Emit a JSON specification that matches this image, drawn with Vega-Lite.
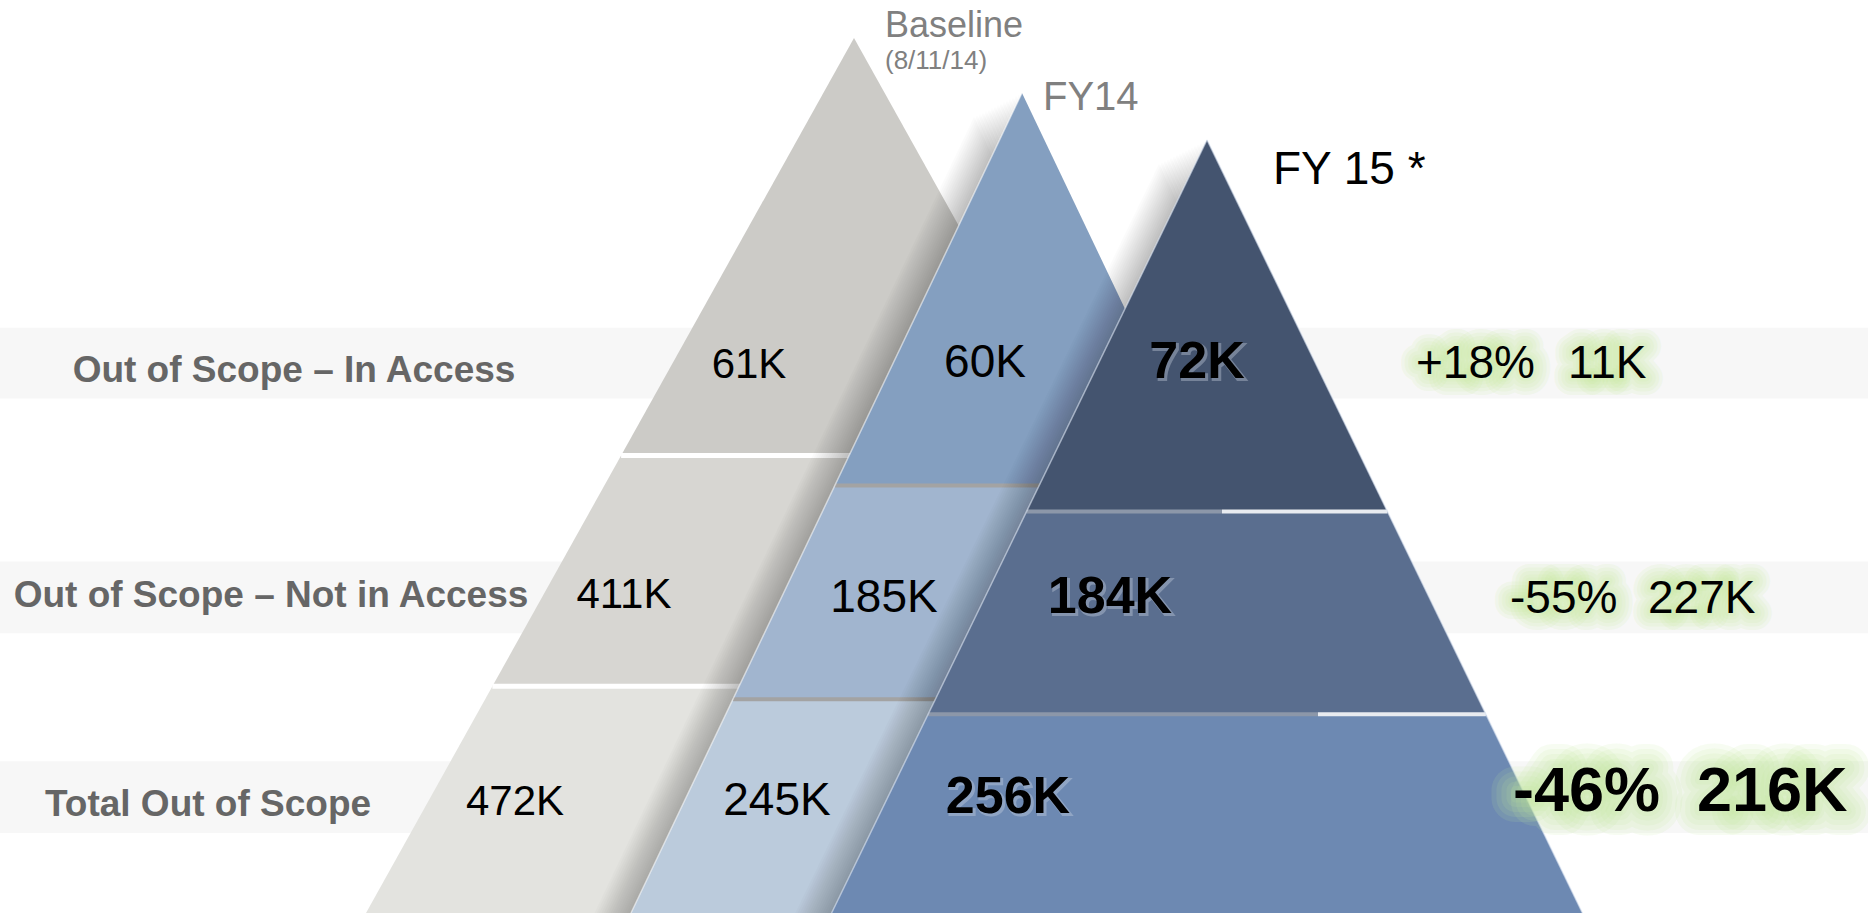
{
  "$schema": "https://vega.github.io/schema/vega-lite/v6.json",
  "width": 1868,
  "height": 914,
  "autosize": {"type": "fit", "contains": "padding"},
  "padding": 0,
  "background": "#ffffff",
  "config": {"view": {"stroke": null}},
  "resolve": {"scale": {"color": "independent"}},
  "datasets": {
    "bands": [
      {"x1": 0, "x2": 1868, "y1": 328, "y2": 399},
      {"x1": 0, "x2": 1868, "y1": 562, "y2": 634},
      {"x1": 0, "x2": 1868, "y1": 762, "y2": 834}
    ],
    "pyr": [
      {"pyr": "B", "seg": "B1", "y": 38, "xl": 854, "xr": 854},
      {"pyr": "B", "seg": "B1", "y": 456, "xl": 621.1, "xr": 1086.9},
      {"pyr": "B", "seg": "B2", "y": 456, "xl": 621.1, "xr": 1086.9},
      {"pyr": "B", "seg": "B2", "y": 687, "xl": 492.4, "xr": 1215.6},
      {"pyr": "B", "seg": "B3", "y": 687, "xl": 492.4, "xr": 1215.6},
      {"pyr": "B", "seg": "B3", "y": 914, "xl": 366, "xr": 1342},
      {"pyr": "F", "seg": "F1", "y": 93, "xl": 1022, "xr": 1022},
      {"pyr": "F", "seg": "F1", "y": 486, "xl": 834.8, "xr": 1209.2},
      {"pyr": "F", "seg": "F2", "y": 486, "xl": 834.8, "xr": 1209.2},
      {"pyr": "F", "seg": "F2", "y": 700, "xl": 732.9, "xr": 1311.1},
      {"pyr": "F", "seg": "F3", "y": 700, "xl": 732.9, "xr": 1311.1},
      {"pyr": "F", "seg": "F3", "y": 914, "xl": 631, "xr": 1413},
      {"pyr": "G", "seg": "G1", "y": 140, "xl": 1207, "xr": 1207},
      {"pyr": "G", "seg": "G1", "y": 512, "xl": 1026.6, "xr": 1387.4},
      {"pyr": "G", "seg": "G2", "y": 512, "xl": 1026.6, "xr": 1387.4},
      {"pyr": "G", "seg": "G2", "y": 715, "xl": 928.1, "xr": 1485.9},
      {"pyr": "G", "seg": "G3", "y": 715, "xl": 928.1, "xr": 1485.9},
      {"pyr": "G", "seg": "G3", "y": 914, "xl": 831.6, "xr": 1582.4}
    ],
    "shadows": [
      {"pyr": "F", "d": 3, "y": 94.5, "xl": 1019, "xr": 1019}, {"pyr": "F", "d": 3, "y": 914, "xl": 628.7, "xr": 1409.3},
      {"pyr": "F", "d": 6, "y": 96, "xl": 1016, "xr": 1016}, {"pyr": "F", "d": 6, "y": 914, "xl": 626.4, "xr": 1405.6},
      {"pyr": "F", "d": 9, "y": 97.5, "xl": 1013, "xr": 1013}, {"pyr": "F", "d": 9, "y": 914, "xl": 624.1, "xr": 1401.9},
      {"pyr": "F", "d": 12, "y": 99, "xl": 1010, "xr": 1010}, {"pyr": "F", "d": 12, "y": 914, "xl": 621.9, "xr": 1398.1},
      {"pyr": "F", "d": 15, "y": 100.5, "xl": 1007, "xr": 1007}, {"pyr": "F", "d": 15, "y": 914, "xl": 619.6, "xr": 1394.4},
      {"pyr": "F", "d": 18, "y": 102, "xl": 1004, "xr": 1004}, {"pyr": "F", "d": 18, "y": 914, "xl": 617.3, "xr": 1390.7},
      {"pyr": "F", "d": 21, "y": 103.5, "xl": 1001, "xr": 1001}, {"pyr": "F", "d": 21, "y": 914, "xl": 615.0, "xr": 1387.0},
      {"pyr": "F", "d": 24, "y": 105, "xl": 998, "xr": 998}, {"pyr": "F", "d": 24, "y": 914, "xl": 612.7, "xr": 1383.3},
      {"pyr": "F", "d": 27, "y": 106.5, "xl": 995, "xr": 995}, {"pyr": "F", "d": 27, "y": 914, "xl": 610.4, "xr": 1379.6},
      {"pyr": "F", "d": 30, "y": 108, "xl": 992, "xr": 992}, {"pyr": "F", "d": 30, "y": 914, "xl": 608.1, "xr": 1375.9},
      {"pyr": "F", "d": 33, "y": 109.5, "xl": 989, "xr": 989}, {"pyr": "F", "d": 33, "y": 914, "xl": 605.9, "xr": 1372.1},
      {"pyr": "F", "d": 36, "y": 111, "xl": 986, "xr": 986}, {"pyr": "F", "d": 36, "y": 914, "xl": 603.6, "xr": 1368.4},
      {"pyr": "F", "d": 39, "y": 112.5, "xl": 983, "xr": 983}, {"pyr": "F", "d": 39, "y": 914, "xl": 601.3, "xr": 1364.7},
      {"pyr": "F", "d": 42, "y": 114, "xl": 980, "xr": 980}, {"pyr": "F", "d": 42, "y": 914, "xl": 599.0, "xr": 1361.0},
      {"pyr": "F", "d": 45, "y": 115.5, "xl": 977, "xr": 977}, {"pyr": "F", "d": 45, "y": 914, "xl": 596.7, "xr": 1357.3},
      {"pyr": "F", "d": 48, "y": 117, "xl": 974, "xr": 974}, {"pyr": "F", "d": 48, "y": 914, "xl": 594.4, "xr": 1353.6},
      {"pyr": "G", "d": 3, "y": 141.5, "xl": 1204, "xr": 1204}, {"pyr": "G", "d": 3, "y": 914, "xl": 829.3, "xr": 1578.7},
      {"pyr": "G", "d": 6, "y": 143, "xl": 1201, "xr": 1201}, {"pyr": "G", "d": 6, "y": 914, "xl": 827.1, "xr": 1575.0},
      {"pyr": "G", "d": 9, "y": 144.5, "xl": 1198, "xr": 1198}, {"pyr": "G", "d": 9, "y": 914, "xl": 824.8, "xr": 1571.2},
      {"pyr": "G", "d": 12, "y": 146, "xl": 1195, "xr": 1195}, {"pyr": "G", "d": 12, "y": 914, "xl": 822.5, "xr": 1567.5},
      {"pyr": "G", "d": 15, "y": 147.5, "xl": 1192, "xr": 1192}, {"pyr": "G", "d": 15, "y": 914, "xl": 820.2, "xr": 1563.8},
      {"pyr": "G", "d": 18, "y": 149, "xl": 1189, "xr": 1189}, {"pyr": "G", "d": 18, "y": 914, "xl": 818.0, "xr": 1560.0},
      {"pyr": "G", "d": 21, "y": 150.5, "xl": 1186, "xr": 1186}, {"pyr": "G", "d": 21, "y": 914, "xl": 815.7, "xr": 1556.3},
      {"pyr": "G", "d": 24, "y": 152, "xl": 1183, "xr": 1183}, {"pyr": "G", "d": 24, "y": 914, "xl": 813.4, "xr": 1552.6},
      {"pyr": "G", "d": 27, "y": 153.5, "xl": 1180, "xr": 1180}, {"pyr": "G", "d": 27, "y": 914, "xl": 811.2, "xr": 1548.9},
      {"pyr": "G", "d": 30, "y": 155, "xl": 1177, "xr": 1177}, {"pyr": "G", "d": 30, "y": 914, "xl": 808.9, "xr": 1545.1},
      {"pyr": "G", "d": 33, "y": 156.5, "xl": 1174, "xr": 1174}, {"pyr": "G", "d": 33, "y": 914, "xl": 806.6, "xr": 1541.4},
      {"pyr": "G", "d": 36, "y": 158, "xl": 1171, "xr": 1171}, {"pyr": "G", "d": 36, "y": 914, "xl": 804.3, "xr": 1537.7},
      {"pyr": "G", "d": 39, "y": 159.5, "xl": 1168, "xr": 1168}, {"pyr": "G", "d": 39, "y": 914, "xl": 802.1, "xr": 1533.9},
      {"pyr": "G", "d": 42, "y": 161, "xl": 1165, "xr": 1165}, {"pyr": "G", "d": 42, "y": 914, "xl": 799.8, "xr": 1530.2},
      {"pyr": "G", "d": 45, "y": 162.5, "xl": 1162, "xr": 1162}, {"pyr": "G", "d": 45, "y": 914, "xl": 797.5, "xr": 1526.5},
      {"pyr": "G", "d": 48, "y": 164, "xl": 1159, "xr": 1159}, {"pyr": "G", "d": 48, "y": 914, "xl": 795.2, "xr": 1522.8}
    ],
    "seps": [
      {"pyr": "B", "kind": "B", "y": 456, "x1": 621.1, "x2": 1086.9},
      {"pyr": "B", "kind": "B", "y": 687, "x1": 492.4, "x2": 1215.6},
      {"pyr": "F", "kind": "F", "y": 486, "x1": 834.8, "x2": 1209.2},
      {"pyr": "F", "kind": "F", "y": 700, "x1": 732.9, "x2": 1311.1},
      {"pyr": "G", "kind": "Gl", "y": 512, "x1": 1026.6, "x2": 1222},
      {"pyr": "G", "kind": "Gr", "y": 512, "x1": 1222, "x2": 1387.4},
      {"pyr": "G", "kind": "Gl", "y": 715, "x1": 928.1, "x2": 1318},
      {"pyr": "G", "kind": "Gr", "y": 715, "x1": 1318, "x2": 1485.9}
    ],
    "edges": [
      {"pyr": "F", "x": 1022, "y": 93, "x2": 631, "y2": 914},
      {"pyr": "G", "x": 1207, "y": 140, "x2": 831.6, "y2": 914},
      {"pyr": "G", "x": 1207, "y": 140, "x2": 1582.4, "y2": 914}
    ],
    "labels": [
      {"label": "Out of Scope – In Access", "x": 294, "y": 382},
      {"label": "Out of Scope – Not in Access", "x": 271, "y": 608},
      {"label": "Total Out of Scope", "x": 208, "y": 817}
    ],
    "values": [
      {"series": "Baseline", "row": "In Access", "text": "61K", "x": 749, "y": 378},
      {"series": "Baseline", "row": "Not in Access", "text": "411K", "x": 624, "y": 609},
      {"series": "Baseline", "row": "Total", "text": "472K", "x": 515, "y": 816},
      {"series": "FY14", "row": "In Access", "text": "60K", "x": 985, "y": 377},
      {"series": "FY14", "row": "Not in Access", "text": "185K", "x": 884, "y": 613},
      {"series": "FY14", "row": "Total", "text": "245K", "x": 777, "y": 816},
      {"series": "FY15", "row": "In Access", "text": "72K", "x": 1197, "y": 378},
      {"series": "FY15", "row": "Not in Access", "text": "184K", "x": 1110, "y": 614},
      {"series": "FY15", "row": "Total", "text": "256K", "x": 1008, "y": 814}
    ],
    "changes": [
      {"row": "In Access", "text": "+18%", "x": 1416, "y": 378},
      {"row": "In Access", "text": "11K", "x": 1568, "y": 378},
      {"row": "Not in Access", "text": "-55%", "x": 1510, "y": 614},
      {"row": "Not in Access", "text": "227K", "x": 1648, "y": 614},
      {"row": "Total", "text": "-46%", "x": 1513, "y": 812},
      {"row": "Total", "text": "216K", "x": 1697, "y": 812}
    ],
    "titles": [
      {"t": "Baseline", "text": "Baseline", "x": 885, "y": 37},
      {"t": "date", "text": "(8/11/14)", "x": 885, "y": 69},
      {"t": "FY14", "text": "FY14", "x": 1043, "y": 110},
      {"t": "FY15", "text": "FY 15 *", "x": 1273, "y": 184}
    ]
  },
  "layer": [
    {
      "data": {"name": "bands"},
      "mark": {"type": "rect", "color": "#f7f7f7"},
      "encoding": {
        "x": {"field": "x1", "type": "quantitative", "scale": {"domain": [0, 1868], "nice": false, "zero": false}, "axis": null},
        "x2": {"field": "x2"},
        "y": {"field": "y1", "type": "quantitative", "scale": {"domain": [0, 914], "reverse": true, "nice": false, "zero": false}, "axis": null},
        "y2": {"field": "y2"}
      }
    },
    {
      "data": {"name": "pyr"},
      "transform": [{"filter": "datum.pyr === 'B'"}],
      "mark": {"type": "area", "orient": "horizontal"},
      "encoding": {
        "y": {"field": "y", "type": "quantitative", "scale": {"domain": [0, 914], "reverse": true, "nice": false, "zero": false}, "axis": null},
        "x": {"field": "xl", "type": "quantitative", "stack": null, "scale": {"domain": [0, 1868], "nice": false, "zero": false}, "axis": null},
        "x2": {"field": "xr"},
        "color": {"field": "seg", "type": "nominal", "legend": null, "scale": {"domain": ["B1", "B2", "B3"], "range": ["#cccbc7", "#d7d6d2", "#e3e3df"]}},
        "detail": {"field": "seg"}
      }
    },
    {
      "data": {"name": "seps"},
      "transform": [{"filter": "datum.pyr === 'B'"}],
      "mark": {"type": "rule", "color": "#ffffff", "strokeWidth": 5},
      "encoding": {
        "x": {"field": "x1", "type": "quantitative", "scale": {"domain": [0, 1868], "nice": false, "zero": false}, "axis": null},
        "x2": {"field": "x2"},
        "y": {"field": "y", "type": "quantitative", "scale": {"domain": [0, 914], "reverse": true, "nice": false, "zero": false}, "axis": null}
      }
    },
    {
      "data": {"name": "shadows"},
      "transform": [{"filter": "datum.pyr === 'F'"}],
      "mark": {"type": "area", "orient": "horizontal", "color": "#000000", "opacity": 0.017},
      "encoding": {
        "y": {"field": "y", "type": "quantitative", "scale": {"domain": [0, 914], "reverse": true, "nice": false, "zero": false}, "axis": null},
        "x": {"field": "xl", "type": "quantitative", "stack": null, "scale": {"domain": [0, 1868], "nice": false, "zero": false}, "axis": null},
        "x2": {"field": "xr"},
        "detail": {"field": "d"}
      }
    },
    {
      "data": {"name": "pyr"},
      "transform": [{"filter": "datum.pyr === 'F'"}],
      "mark": {"type": "area", "orient": "horizontal"},
      "encoding": {
        "y": {"field": "y", "type": "quantitative", "scale": {"domain": [0, 914], "reverse": true, "nice": false, "zero": false}, "axis": null},
        "x": {"field": "xl", "type": "quantitative", "stack": null, "scale": {"domain": [0, 1868], "nice": false, "zero": false}, "axis": null},
        "x2": {"field": "xr"},
        "color": {"field": "seg", "type": "nominal", "legend": null, "scale": {"domain": ["F1", "F2", "F3"], "range": ["#849fc0", "#a1b5cf", "#bbcbdc"]}},
        "detail": {"field": "seg"}
      }
    },
    {
      "data": {"name": "seps"},
      "transform": [{"filter": "datum.pyr === 'F'"}],
      "mark": {"type": "rule", "color": "#a3a3a3", "strokeWidth": 4},
      "encoding": {
        "x": {"field": "x1", "type": "quantitative", "scale": {"domain": [0, 1868], "nice": false, "zero": false}, "axis": null},
        "x2": {"field": "x2"},
        "y": {"field": "y", "type": "quantitative", "scale": {"domain": [0, 914], "reverse": true, "nice": false, "zero": false}, "axis": null}
      }
    },
    {
      "data": {"name": "edges"},
      "transform": [{"filter": "datum.pyr === 'F'"}],
      "mark": {"type": "rule", "color": "#ffffff", "strokeWidth": 1.5, "opacity": 0.55},
      "encoding": {
        "x": {"field": "x", "type": "quantitative", "scale": {"domain": [0, 1868], "nice": false, "zero": false}, "axis": null},
        "x2": {"field": "x2"},
        "y": {"field": "y", "type": "quantitative", "scale": {"domain": [0, 914], "reverse": true, "nice": false, "zero": false}, "axis": null},
        "y2": {"field": "y2"}
      }
    },
    {
      "data": {"name": "shadows"},
      "transform": [{"filter": "datum.pyr === 'G'"}],
      "mark": {"type": "area", "orient": "horizontal", "color": "#000000", "opacity": 0.017},
      "encoding": {
        "y": {"field": "y", "type": "quantitative", "scale": {"domain": [0, 914], "reverse": true, "nice": false, "zero": false}, "axis": null},
        "x": {"field": "xl", "type": "quantitative", "stack": null, "scale": {"domain": [0, 1868], "nice": false, "zero": false}, "axis": null},
        "x2": {"field": "xr"},
        "detail": {"field": "d"}
      }
    },
    {
      "data": {"name": "pyr"},
      "transform": [{"filter": "datum.pyr === 'G'"}],
      "mark": {"type": "area", "orient": "horizontal"},
      "encoding": {
        "y": {"field": "y", "type": "quantitative", "scale": {"domain": [0, 914], "reverse": true, "nice": false, "zero": false}, "axis": null},
        "x": {"field": "xl", "type": "quantitative", "stack": null, "scale": {"domain": [0, 1868], "nice": false, "zero": false}, "axis": null},
        "x2": {"field": "xr"},
        "color": {"field": "seg", "type": "nominal", "legend": null, "scale": {"domain": ["G1", "G2", "G3"], "range": ["#44546f", "#5a6e8f", "#6d89b2"]}},
        "detail": {"field": "seg"}
      }
    },
    {
      "data": {"name": "seps"},
      "transform": [{"filter": "datum.pyr === 'G'"}],
      "mark": {"type": "rule", "strokeWidth": 4},
      "encoding": {
        "x": {"field": "x1", "type": "quantitative", "scale": {"domain": [0, 1868], "nice": false, "zero": false}, "axis": null},
        "x2": {"field": "x2"},
        "y": {"field": "y", "type": "quantitative", "scale": {"domain": [0, 914], "reverse": true, "nice": false, "zero": false}, "axis": null},
        "color": {"field": "kind", "type": "nominal", "legend": null, "scale": {"domain": ["Gl", "Gr"], "range": ["#8c97a9", "#e8ebf0"]}}
      }
    },
    {
      "data": {"name": "edges"},
      "transform": [{"filter": "datum.pyr === 'G'"}],
      "mark": {"type": "rule", "color": "#dfe8f5", "strokeWidth": 1.5, "opacity": 0.6},
      "encoding": {
        "x": {"field": "x", "type": "quantitative", "scale": {"domain": [0, 1868], "nice": false, "zero": false}, "axis": null},
        "x2": {"field": "x2"},
        "y": {"field": "y", "type": "quantitative", "scale": {"domain": [0, 914], "reverse": true, "nice": false, "zero": false}, "axis": null},
        "y2": {"field": "y2"}
      }
    },
    {
      "data": {"name": "labels"},
      "mark": {"type": "text", "align": "center", "baseline": "alphabetic", "font": "Liberation Sans", "fontSize": 37, "fontWeight": "bold", "fill": "#666666"},
      "encoding": {
        "x": {"field": "x", "type": "quantitative", "scale": {"domain": [0, 1868], "nice": false, "zero": false}, "axis": null},
        "y": {"field": "y", "type": "quantitative", "scale": {"domain": [0, 914], "reverse": true, "nice": false, "zero": false}, "axis": null},
        "text": {"field": "label"}
      }
    },
    {
      "data": {"name": "values"},
      "transform": [{"filter": "datum.series === 'Baseline'"}],
      "mark": {"type": "text", "align": "center", "baseline": "alphabetic", "font": "Liberation Sans", "fontSize": 42, "fill": "#000000"},
      "encoding": {
        "x": {"field": "x", "type": "quantitative", "scale": {"domain": [0, 1868], "nice": false, "zero": false}, "axis": null},
        "y": {"field": "y", "type": "quantitative", "scale": {"domain": [0, 914], "reverse": true, "nice": false, "zero": false}, "axis": null},
        "text": {"field": "text"}
      }
    },
    {
      "data": {"name": "values"},
      "transform": [{"filter": "datum.series === 'FY14'"}],
      "mark": {"type": "text", "align": "center", "baseline": "alphabetic", "font": "Liberation Sans", "fontSize": 46, "fill": "#000000"},
      "encoding": {
        "x": {"field": "x", "type": "quantitative", "scale": {"domain": [0, 1868], "nice": false, "zero": false}, "axis": null},
        "y": {"field": "y", "type": "quantitative", "scale": {"domain": [0, 914], "reverse": true, "nice": false, "zero": false}, "axis": null},
        "text": {"field": "text"}
      }
    },
    {
      "data": {"name": "values"},
      "transform": [{"filter": "datum.series === 'FY15'"}],
      "mark": {"type": "text", "align": "center", "baseline": "alphabetic", "font": "Liberation Sans", "fontSize": 52, "fontWeight": "bold", "fill": "#d3dbe8", "stroke": "#d3dbe8", "strokeWidth": 2, "opacity": 0.35, "dx": 2, "dy": 2},
      "encoding": {
        "x": {"field": "x", "type": "quantitative", "scale": {"domain": [0, 1868], "nice": false, "zero": false}, "axis": null},
        "y": {"field": "y", "type": "quantitative", "scale": {"domain": [0, 914], "reverse": true, "nice": false, "zero": false}, "axis": null},
        "text": {"field": "text"}
      }
    },
    {
      "data": {"name": "values"},
      "transform": [{"filter": "datum.series === 'FY15'"}],
      "mark": {"type": "text", "align": "center", "baseline": "alphabetic", "font": "Liberation Sans", "fontSize": 52, "fontWeight": "bold", "fill": "#000000"},
      "encoding": {
        "x": {"field": "x", "type": "quantitative", "scale": {"domain": [0, 1868], "nice": false, "zero": false}, "axis": null},
        "y": {"field": "y", "type": "quantitative", "scale": {"domain": [0, 914], "reverse": true, "nice": false, "zero": false}, "axis": null},
        "text": {"field": "text"}
      }
    },
    {
      "data": {"name": "changes"},
      "transform": [{"filter": "datum.row !== 'Total'"}],
      "mark": {"type": "text", "align": "left", "baseline": "alphabetic", "font": "Liberation Sans", "fontSize": 46, "fillOpacity": 0, "stroke": "#c5ea98", "strokeWidth": 34, "strokeOpacity": 0.13, "strokeJoin": "round"},
      "encoding": {
        "x": {"field": "x", "type": "quantitative", "scale": {"domain": [0, 1868], "nice": false, "zero": false}, "axis": null},
        "y": {"field": "y", "type": "quantitative", "scale": {"domain": [0, 914], "reverse": true, "nice": false, "zero": false}, "axis": null},
        "text": {"field": "text"}
      }
    },
    {
      "data": {"name": "changes"},
      "transform": [{"filter": "datum.row !== 'Total'"}],
      "mark": {"type": "text", "align": "left", "baseline": "alphabetic", "font": "Liberation Sans", "fontSize": 46, "fillOpacity": 0, "stroke": "#c5ea98", "strokeWidth": 27, "strokeOpacity": 0.13, "strokeJoin": "round"},
      "encoding": {
        "x": {"field": "x", "type": "quantitative", "scale": {"domain": [0, 1868], "nice": false, "zero": false}, "axis": null},
        "y": {"field": "y", "type": "quantitative", "scale": {"domain": [0, 914], "reverse": true, "nice": false, "zero": false}, "axis": null},
        "text": {"field": "text"}
      }
    },
    {
      "data": {"name": "changes"},
      "transform": [{"filter": "datum.row !== 'Total'"}],
      "mark": {"type": "text", "align": "left", "baseline": "alphabetic", "font": "Liberation Sans", "fontSize": 46, "fillOpacity": 0, "stroke": "#c5ea98", "strokeWidth": 20, "strokeOpacity": 0.13, "strokeJoin": "round"},
      "encoding": {
        "x": {"field": "x", "type": "quantitative", "scale": {"domain": [0, 1868], "nice": false, "zero": false}, "axis": null},
        "y": {"field": "y", "type": "quantitative", "scale": {"domain": [0, 914], "reverse": true, "nice": false, "zero": false}, "axis": null},
        "text": {"field": "text"}
      }
    },
    {
      "data": {"name": "changes"},
      "transform": [{"filter": "datum.row !== 'Total'"}],
      "mark": {"type": "text", "align": "left", "baseline": "alphabetic", "font": "Liberation Sans", "fontSize": 46, "fillOpacity": 0, "stroke": "#c5ea98", "strokeWidth": 13, "strokeOpacity": 0.13, "strokeJoin": "round"},
      "encoding": {
        "x": {"field": "x", "type": "quantitative", "scale": {"domain": [0, 1868], "nice": false, "zero": false}, "axis": null},
        "y": {"field": "y", "type": "quantitative", "scale": {"domain": [0, 914], "reverse": true, "nice": false, "zero": false}, "axis": null},
        "text": {"field": "text"}
      }
    },
    {
      "data": {"name": "changes"},
      "transform": [{"filter": "datum.row !== 'Total'"}],
      "mark": {"type": "text", "align": "left", "baseline": "alphabetic", "font": "Liberation Sans", "fontSize": 46, "fillOpacity": 0, "stroke": "#c5ea98", "strokeWidth": 7, "strokeOpacity": 0.13, "strokeJoin": "round"},
      "encoding": {
        "x": {"field": "x", "type": "quantitative", "scale": {"domain": [0, 1868], "nice": false, "zero": false}, "axis": null},
        "y": {"field": "y", "type": "quantitative", "scale": {"domain": [0, 914], "reverse": true, "nice": false, "zero": false}, "axis": null},
        "text": {"field": "text"}
      }
    },
    {
      "data": {"name": "changes"},
      "transform": [{"filter": "datum.row !== 'Total'"}],
      "mark": {"type": "text", "align": "left", "baseline": "alphabetic", "font": "Liberation Sans", "fontSize": 46, "fill": "#000000"},
      "encoding": {
        "x": {"field": "x", "type": "quantitative", "scale": {"domain": [0, 1868], "nice": false, "zero": false}, "axis": null},
        "y": {"field": "y", "type": "quantitative", "scale": {"domain": [0, 914], "reverse": true, "nice": false, "zero": false}, "axis": null},
        "text": {"field": "text"}
      }
    },
    {
      "data": {"name": "changes"},
      "transform": [{"filter": "datum.row === 'Total'"}],
      "mark": {"type": "text", "align": "left", "baseline": "alphabetic", "font": "Liberation Sans", "fontSize": 63, "fontWeight": "bold", "fillOpacity": 0, "stroke": "#c5ea98", "strokeWidth": 48, "strokeOpacity": 0.13, "strokeJoin": "round"},
      "encoding": {
        "x": {"field": "x", "type": "quantitative", "scale": {"domain": [0, 1868], "nice": false, "zero": false}, "axis": null},
        "y": {"field": "y", "type": "quantitative", "scale": {"domain": [0, 914], "reverse": true, "nice": false, "zero": false}, "axis": null},
        "text": {"field": "text"}
      }
    },
    {
      "data": {"name": "changes"},
      "transform": [{"filter": "datum.row === 'Total'"}],
      "mark": {"type": "text", "align": "left", "baseline": "alphabetic", "font": "Liberation Sans", "fontSize": 63, "fontWeight": "bold", "fillOpacity": 0, "stroke": "#c5ea98", "strokeWidth": 38, "strokeOpacity": 0.13, "strokeJoin": "round"},
      "encoding": {
        "x": {"field": "x", "type": "quantitative", "scale": {"domain": [0, 1868], "nice": false, "zero": false}, "axis": null},
        "y": {"field": "y", "type": "quantitative", "scale": {"domain": [0, 914], "reverse": true, "nice": false, "zero": false}, "axis": null},
        "text": {"field": "text"}
      }
    },
    {
      "data": {"name": "changes"},
      "transform": [{"filter": "datum.row === 'Total'"}],
      "mark": {"type": "text", "align": "left", "baseline": "alphabetic", "font": "Liberation Sans", "fontSize": 63, "fontWeight": "bold", "fillOpacity": 0, "stroke": "#c5ea98", "strokeWidth": 28, "strokeOpacity": 0.13, "strokeJoin": "round"},
      "encoding": {
        "x": {"field": "x", "type": "quantitative", "scale": {"domain": [0, 1868], "nice": false, "zero": false}, "axis": null},
        "y": {"field": "y", "type": "quantitative", "scale": {"domain": [0, 914], "reverse": true, "nice": false, "zero": false}, "axis": null},
        "text": {"field": "text"}
      }
    },
    {
      "data": {"name": "changes"},
      "transform": [{"filter": "datum.row === 'Total'"}],
      "mark": {"type": "text", "align": "left", "baseline": "alphabetic", "font": "Liberation Sans", "fontSize": 63, "fontWeight": "bold", "fillOpacity": 0, "stroke": "#c5ea98", "strokeWidth": 18, "strokeOpacity": 0.13, "strokeJoin": "round"},
      "encoding": {
        "x": {"field": "x", "type": "quantitative", "scale": {"domain": [0, 1868], "nice": false, "zero": false}, "axis": null},
        "y": {"field": "y", "type": "quantitative", "scale": {"domain": [0, 914], "reverse": true, "nice": false, "zero": false}, "axis": null},
        "text": {"field": "text"}
      }
    },
    {
      "data": {"name": "changes"},
      "transform": [{"filter": "datum.row === 'Total'"}],
      "mark": {"type": "text", "align": "left", "baseline": "alphabetic", "font": "Liberation Sans", "fontSize": 63, "fontWeight": "bold", "fillOpacity": 0, "stroke": "#c5ea98", "strokeWidth": 9, "strokeOpacity": 0.13, "strokeJoin": "round"},
      "encoding": {
        "x": {"field": "x", "type": "quantitative", "scale": {"domain": [0, 1868], "nice": false, "zero": false}, "axis": null},
        "y": {"field": "y", "type": "quantitative", "scale": {"domain": [0, 914], "reverse": true, "nice": false, "zero": false}, "axis": null},
        "text": {"field": "text"}
      }
    },
    {
      "data": {"name": "changes"},
      "transform": [{"filter": "datum.row === 'Total'"}],
      "mark": {"type": "text", "align": "left", "baseline": "alphabetic", "font": "Liberation Sans", "fontSize": 63, "fontWeight": "bold", "fill": "#000000"},
      "encoding": {
        "x": {"field": "x", "type": "quantitative", "scale": {"domain": [0, 1868], "nice": false, "zero": false}, "axis": null},
        "y": {"field": "y", "type": "quantitative", "scale": {"domain": [0, 914], "reverse": true, "nice": false, "zero": false}, "axis": null},
        "text": {"field": "text"}
      }
    },
    {
      "data": {"name": "titles"},
      "transform": [{"filter": "datum.t === 'Baseline'"}],
      "mark": {"type": "text", "align": "left", "baseline": "alphabetic", "font": "Liberation Sans", "fontSize": 36, "fill": "#808080"},
      "encoding": {
        "x": {"field": "x", "type": "quantitative", "scale": {"domain": [0, 1868], "nice": false, "zero": false}, "axis": null},
        "y": {"field": "y", "type": "quantitative", "scale": {"domain": [0, 914], "reverse": true, "nice": false, "zero": false}, "axis": null},
        "text": {"field": "text"}
      }
    },
    {
      "data": {"name": "titles"},
      "transform": [{"filter": "datum.t === 'date'"}],
      "mark": {"type": "text", "align": "left", "baseline": "alphabetic", "font": "Liberation Sans", "fontSize": 26, "fill": "#808080"},
      "encoding": {
        "x": {"field": "x", "type": "quantitative", "scale": {"domain": [0, 1868], "nice": false, "zero": false}, "axis": null},
        "y": {"field": "y", "type": "quantitative", "scale": {"domain": [0, 914], "reverse": true, "nice": false, "zero": false}, "axis": null},
        "text": {"field": "text"}
      }
    },
    {
      "data": {"name": "titles"},
      "transform": [{"filter": "datum.t === 'FY14'"}],
      "mark": {"type": "text", "align": "left", "baseline": "alphabetic", "font": "Liberation Sans", "fontSize": 40, "fill": "#808080"},
      "encoding": {
        "x": {"field": "x", "type": "quantitative", "scale": {"domain": [0, 1868], "nice": false, "zero": false}, "axis": null},
        "y": {"field": "y", "type": "quantitative", "scale": {"domain": [0, 914], "reverse": true, "nice": false, "zero": false}, "axis": null},
        "text": {"field": "text"}
      }
    },
    {
      "data": {"name": "titles"},
      "transform": [{"filter": "datum.t === 'FY15'"}],
      "mark": {"type": "text", "align": "left", "baseline": "alphabetic", "font": "Liberation Sans", "fontSize": 46, "fill": "#000000"},
      "encoding": {
        "x": {"field": "x", "type": "quantitative", "scale": {"domain": [0, 1868], "nice": false, "zero": false}, "axis": null},
        "y": {"field": "y", "type": "quantitative", "scale": {"domain": [0, 914], "reverse": true, "nice": false, "zero": false}, "axis": null},
        "text": {"field": "text"}
      }
    }
  ]
}
